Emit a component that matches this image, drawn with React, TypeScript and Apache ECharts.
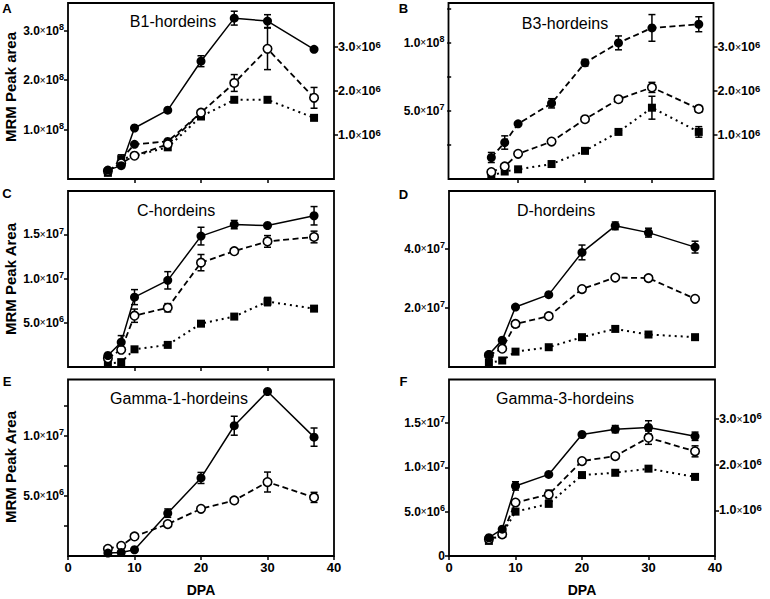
import React, { useEffect, useRef } from 'react';
import * as echarts from 'echarts';

const FONT = '"Liberation Sans", Arial, Helvetica, sans-serif';

// Sampling days (DPA)
const dpa = [6, 8, 10, 15, 20, 25, 30, 37];

// A: B1-hordeins
const b1Solid = [1.8e7, 2.7e7, 1.03e8, 1.39e8, 2.38e8, 3.25e8, 3.19e8, 2.62e8];
const b1SolidErr = [0, 0, 0, 0, 1.1e7, 1.4e7, 1.3e7, 0];
const b1Open = [1.6e7, 3.2e7, 4.7e7, 7.0e7, 1.34e8, 1.94e8, 2.63e8, 1.64e8];
const b1OpenErr = [0, 0, 0, 0, 0, 1.7e7, 4.2e7, 2.1e7];
const b1ExtraDpa = [8, 10, 15, 20];
const b1Extra = [4.0e7, 7.0e7, 7.6e7, 1.34e8];
const b1ExtraMarked = [false, true, true, false];
const b1SquareDpa = [6, 8, 15, 20, 25, 30, 37];
const b1Square = [1.4e5, 4.5e5, 7.2e5, 1.42e6, 1.8e6, 1.8e6, 1.39e6];
const b1SquareErr = [0, 1.0e5, 0, 0, 0, 0, 0];

// B: B3-hordeins
const b3Filled = [1.58e7, 2.68e7, 4.05e7, 5.56e7, 8.54e7, 1.0e8, 1.11e8, 1.137e8];
const b3FilledErr = [3.7e6, 4.9e6, 0, 3.4e6, 2.4e6, 5.1e6, 9.8e6, 5.5e6];
const b3Open = [5.1e6, 9.2e6, 1.85e7, 2.75e7, 4.39e7, 5.86e7, 6.73e7, 5.15e7];
const b3OpenErr = [0, 0, 0, 0, 0, 0, 3.7e6, 2.4e6];
const b3Square = [7e4, 1.7e5, 2.2e5, 3.4e5, 6.4e5, 1.07e6, 1.62e6, 1.07e6];
const b3SquareErr = [0, 0, 0, 0, 0, 0, 2.6e5, 1.2e5];

// C: C-hordeins
const cSolid = [1.3e6, 2.8e6, 7.9e6, 9.8e6, 1.48e7, 1.61e7, 1.6e7, 1.71e7];
const cSolidErr = [0, 7.5e5, 8.5e5, 9.8e5, 1.0e6, 4.7e5, 0, 1.04e6];
const cOpen = [1.0e6, 1.95e6, 5.8e6, 6.7e6, 1.18e7, 1.31e7, 1.42e7, 1.47e7];
const cOpenErr = [0, 0, 7.5e5, 4.7e5, 9.2e5, 0, 6.6e5, 6.6e5];
const cSquare = [3.6e5, 5.5e5, 2.0e6, 2.5e6, 4.9e6, 5.7e6, 7.4e6, 6.6e6];
const cSquareErr = [0, 0, 0, 0, 0, 0, 4.7e5, 0];

// D: D-hordeins
const dSolid = [4.2e6, 9.1e6, 2.03e7, 2.45e7, 3.88e7, 4.78e7, 4.55e7, 4.06e7];
const dSolidErr = [0, 0, 0, 0, 2.5e6, 1.3e6, 1.5e6, 2.0e6];
const dOpen = [4.0e6, 6.2e6, 1.46e7, 1.72e7, 2.64e7, 3.03e7, 3.01e7, 2.31e7];
const dOpenErr = [0, 0, 0, 0, 0, 8e5, 0, 0];
const dSquare = [1.4e6, 2.2e6, 5.2e6, 6.7e6, 1.01e7, 1.29e7, 1.1e7, 1.01e7];

// E: Gamma-1-hordeins
const g1Solid = [2.4e5, 3.0e5, 5.2e5, 3.57e6, 6.5e6, 1.085e7, 1.37e7, 9.9e6];
const g1SolidErr = [0, 0, 0, 3.5e5, 4.6e5, 7.9e5, 0, 7.6e5];
const g1Open = [6.0e5, 8.5e5, 1.63e6, 2.66e6, 3.93e6, 4.63e6, 6.16e6, 4.88e6];
const g1OpenErr = [0, 0, 0, 0, 0, 0, 8.3e5, 4.2e5];

// F: Gamma-3-hordeins
const g3Solid = [2.06e6, 3.03e6, 7.9e6, 9.2e6, 1.37e7, 1.43e7, 1.45e7, 1.35e7];
const g3SolidErr = [0, 0, 4.7e5, 0, 0, 4.1e5, 7.5e5, 4.7e5];
const g3Open = [1.9e6, 2.44e6, 6.03e6, 6.93e6, 1.07e7, 1.127e7, 1.334e7, 1.18e7];
const g3OpenErr = [0, 0, 0, 5e5, 0, 0, 7.5e5, 6.2e5];
const g3Square = [3.3e5, 4.8e5, 9.7e5, 1.14e6, 1.77e6, 1.82e6, 1.91e6, 1.73e6];

// Tick values / labels
const xTicksTop = [10, 20, 30];
const xTicksBottom = [0, 10, 20, 30, 40];
const aLeftTicks = [1e8, 2e8, 3e8];
const rightTicks = [1e6, 2e6, 3e6];
const bLeftTicks = [2.5e7, 5e7, 7.5e7, 1e8, 1.25e8];
const bLeftLabels = [5e7, 1e8];
const cTicks = [5e6, 1e7, 1.5e7];
const dTicks = [2e7, 4e7];
const eTicks = [2.5e6, 5e6, 7.5e6, 1e7, 1.25e7];
const eLabels = [5e6, 1e7];
const fLeftTicks = [0, 5e6, 1e7, 1.5e7];

const titles = ['B1-hordeins', 'B3-hordeins', 'C-hordeins', 'D-hordeins', 'Gamma-1-hordeins', 'Gamma-3-hordeins'];
const letters = ['A', 'B', 'C', 'D', 'E', 'F'];

function sciFmt(v: number) {
  if (v === 0) return '{b|0}';
  const e = Math.floor(Math.log10(v) + 1e-9);
  const m = v / Math.pow(10, e);
  return `{b|${m.toFixed(1)}}{x|×}{b|10}{s|${e}}`;
}

function rich(size: number) {
  return {
    b: { fontFamily: FONT, fontWeight: 'bold', fontSize: size, color: '#000', lineHeight: 16 },
    x: { fontFamily: FONT, fontSize: size - 2, color: '#000', lineHeight: 16 },
    s: { fontFamily: FONT, fontWeight: 'bold', fontSize: size - 3, color: '#000', lineHeight: 10, verticalAlign: 'top' },
  };
}

function yAx(gridIndex: number, position: string, max: number, ticks: number[], labels: number[], size = 12) {
  return {
    type: 'value', gridIndex, position, min: 0, max,
    splitLine: { show: false },
    axisLine: { show: false },
    axisTick: { show: true, length: 4, lineStyle: { color: '#000', width: 1.5 }, customValues: ticks },
    axisLabel: { show: labels.length > 0, customValues: labels, margin: 4, formatter: sciFmt, rich: rich(size), color: '#000' },
  };
}

function xAx(gridIndex: number, min: number, max: number, ticks: number[], showLabels: boolean) {
  return {
    type: 'value', gridIndex, min, max,
    splitLine: { show: false },
    axisLine: { show: false },
    axisTick: { show: ticks.length > 0, length: 4, lineStyle: { color: '#000', width: 1.5 }, customValues: ticks },
    axisLabel: {
      show: showLabels, customValues: ticks, margin: 5,
      fontFamily: FONT, fontWeight: 'bold', fontSize: 13, color: '#000',
    },
  };
}

type Kind = 'solid' | 'dashFilled' | 'dashOpen' | 'dotSquare';

function line(xi: number, yi: number, xs: number[], ys: number[], kind: Kind, marked?: boolean[]) {
  const lineType: any = kind === 'solid' ? 'solid' : kind === 'dotSquare' ? [2, 4] : [6, 3.5];
  const width = kind === 'solid' ? 1.5 : kind === 'dotSquare' ? 2 : 1.8;
  const data = xs.map((x, i) =>
    marked && !marked[i] ? { value: [x, ys[i]], symbolSize: 0 } : [x, ys[i]]
  );
  return {
    type: 'line', xAxisIndex: xi, yAxisIndex: yi, data, clip: false, z: 3,
    symbol: kind === 'dotSquare' ? 'rect' : 'circle',
    symbolSize: kind === 'dotSquare' ? 8 : kind === 'dashOpen' ? 8.5 : 9,
    showSymbol: true,
    lineStyle: { color: '#000', width, type: lineType, cap: 'butt' },
    itemStyle: kind === 'dashOpen'
      ? { color: '#fff', borderColor: '#000', borderWidth: 1.6 }
      : { color: '#000', borderWidth: 0 },
    emphasis: { disabled: true },
  };
}

function err(xi: number, yi: number, xs: number[], ys: number[], es: number[]) {
  const data = xs
    .map((x, i) => [x, ys[i] - es[i], ys[i] + es[i]])
    .filter((_, i) => es[i] > 0);
  return {
    type: 'custom', xAxisIndex: xi, yAxisIndex: yi, data, z: 2, clip: false,
    encode: { x: 0, y: [1, 2] },
    renderItem: (_p: any, api: any) => {
      const x = api.value(0);
      const lo = api.coord([x, api.value(1)]);
      const hi = api.coord([x, api.value(2)]);
      const w = 3.5;
      const st = { stroke: '#000', lineWidth: 1.5 };
      return {
        type: 'group',
        children: [
          { type: 'line', shape: { x1: lo[0], y1: lo[1], x2: hi[0], y2: hi[1] }, style: st },
          { type: 'line', shape: { x1: lo[0] - w, y1: lo[1], x2: lo[0] + w, y2: lo[1] }, style: st },
          { type: 'line', shape: { x1: hi[0] - w, y1: hi[1], x2: hi[0] + w, y2: hi[1] }, style: st },
        ],
      };
    },
  };
}

const gridBox = { show: true, borderColor: '#000', borderWidth: 1.8, backgroundColor: 'transparent', containLabel: false };

export default function App() {
  const ref = useRef<HTMLDivElement>(null);
  useEffect(() => {
    if (!ref.current) return;
    const chart = echarts.init(ref.current, undefined, { renderer: 'svg' });

    const grids = [
      { left: 68, top: 3, width: 266, height: 176 },
      { left: 448.5, top: 3, width: 265, height: 176 },
      { left: 68, top: 191, width: 266, height: 176 },
      { left: 449, top: 191, width: 266, height: 176 },
      { left: 68, top: 379.5, width: 266, height: 176.5 },
      { left: 449, top: 379.5, width: 266, height: 176.5 },
    ].map((g) => ({ ...gridBox, ...g }));

    const xAxis = [
      xAx(0, 0, 40, xTicksTop, false),
      xAx(1, -0.4, 39.2, xTicksTop, false),
      xAx(2, 0, 40, xTicksTop, false),
      xAx(3, 0, 40, [], false),
      xAx(4, 0, 40, xTicksBottom, true),
      xAx(5, 0, 40, xTicksBottom, true),
    ];

    const yAxis = [
      yAx(0, 'left', 3.556e8, aLeftTicks, aLeftTicks), // 0
      yAx(0, 'right', 4e6, rightTicks, rightTicks, 12.5), // 1
      yAx(1, 'left', 1.293e8, bLeftTicks, bLeftLabels), // 2
      yAx(1, 'right', 4e6, rightTicks, rightTicks, 12.5), // 3
      yAx(2, 'left', 1.99e7, cTicks, cTicks), // 4
      yAx(3, 'left', 5.96e7, dTicks, dTicks), // 5
      yAx(4, 'left', 1.47e7, eTicks, eLabels), // 6
      yAx(5, 'left', 1.99e7, fLeftTicks, fLeftTicks), // 7
      yAx(5, 'right', 3.86e6, rightTicks, rightTicks, 12.5), // 8
    ];

    const series: any[] = [
      // A
      err(0, 0, dpa, b1Solid, b1SolidErr),
      err(0, 0, dpa, b1Open, b1OpenErr),
      err(0, 1, b1SquareDpa, b1Square, b1SquareErr),
      line(0, 1, b1SquareDpa, b1Square, 'dotSquare'),
      line(0, 0, b1ExtraDpa, b1Extra, 'dashFilled', b1ExtraMarked),
      line(0, 0, dpa, b1Open, 'dashOpen'),
      line(0, 0, dpa, b1Solid, 'solid'),
      // B
      err(1, 2, dpa, b3Filled, b3FilledErr),
      err(1, 2, dpa, b3Open, b3OpenErr),
      err(1, 3, dpa, b3Square, b3SquareErr),
      line(1, 3, dpa, b3Square, 'dotSquare'),
      line(1, 2, dpa, b3Open, 'dashOpen'),
      line(1, 2, dpa, b3Filled, 'dashFilled'),
      // C
      err(2, 4, dpa, cSolid, cSolidErr),
      err(2, 4, dpa, cOpen, cOpenErr),
      err(2, 4, dpa, cSquare, cSquareErr),
      line(2, 4, dpa, cSquare, 'dotSquare'),
      line(2, 4, dpa, cOpen, 'dashOpen'),
      line(2, 4, dpa, cSolid, 'solid'),
      // D
      err(3, 5, dpa, dSolid, dSolidErr),
      err(3, 5, dpa, dOpen, dOpenErr),
      line(3, 5, dpa, dSquare, 'dotSquare'),
      line(3, 5, dpa, dOpen, 'dashOpen'),
      line(3, 5, dpa, dSolid, 'solid'),
      // E
      err(4, 6, dpa, g1Solid, g1SolidErr),
      err(4, 6, dpa, g1Open, g1OpenErr),
      line(4, 6, dpa, g1Open, 'dashOpen'),
      line(4, 6, dpa, g1Solid, 'solid'),
      // F
      err(5, 7, dpa, g3Solid, g3SolidErr),
      err(5, 7, dpa, g3Open, g3OpenErr),
      line(5, 8, dpa, g3Square, 'dotSquare'),
      line(5, 7, dpa, g3Open, 'dashOpen'),
      line(5, 7, dpa, g3Solid, 'solid'),
    ];

    const titlePos = [[173, 21], [565, 23], [176, 210], [556, 210], [179, 398], [565, 398]];
    const letterPos = [[7, 8], [403.5, 8], [7, 193], [403.5, 194], [7, 381], [403.5, 381]];
    const yNames = [['MRM Peak area', 87], ['MRM Peak Area', 279], ['MRM Peak Area', 467]];

    const graphic: any[] = [
      ...titles.map((t, i) => ({
        type: 'text', x: titlePos[i][0], y: titlePos[i][1], silent: true,
        style: { text: t, fontFamily: FONT, fontSize: 16, fill: '#000', align: 'center', verticalAlign: 'middle' },
      })),
      ...letters.map((t, i) => ({
        type: 'text', x: letterPos[i][0], y: letterPos[i][1], silent: true,
        style: { text: t, fontFamily: FONT, fontSize: 13, fontWeight: 'bold', fill: '#000', align: 'center', verticalAlign: 'middle' },
      })),
      ...yNames.map(([t, y]) => ({
        type: 'text', x: 10, y: y as number, rotation: Math.PI / 2, silent: true,
        style: { text: t as string, fontFamily: FONT, fontSize: 15, fontWeight: 'bold', fill: '#000', align: 'center', verticalAlign: 'middle' },
      })),
      ...[201, 582].map((x) => ({
        type: 'text', x, y: 590, silent: true,
        style: { text: 'DPA', fontFamily: FONT, fontSize: 14, fontWeight: 'bold', fill: '#000', align: 'center', verticalAlign: 'middle' },
      })),
    ];

    chart.setOption({
      animation: false,
      backgroundColor: '#fff',
      grid: grids,
      xAxis,
      yAxis,
      series,
      graphic,
    });
    return () => chart.dispose();
  }, []);

  return (
    <div
      ref={ref}
      style={{ position: 'fixed', left: 0, top: 0, width: 770, height: 599, background: '#fff' }}
    />
  );
}
